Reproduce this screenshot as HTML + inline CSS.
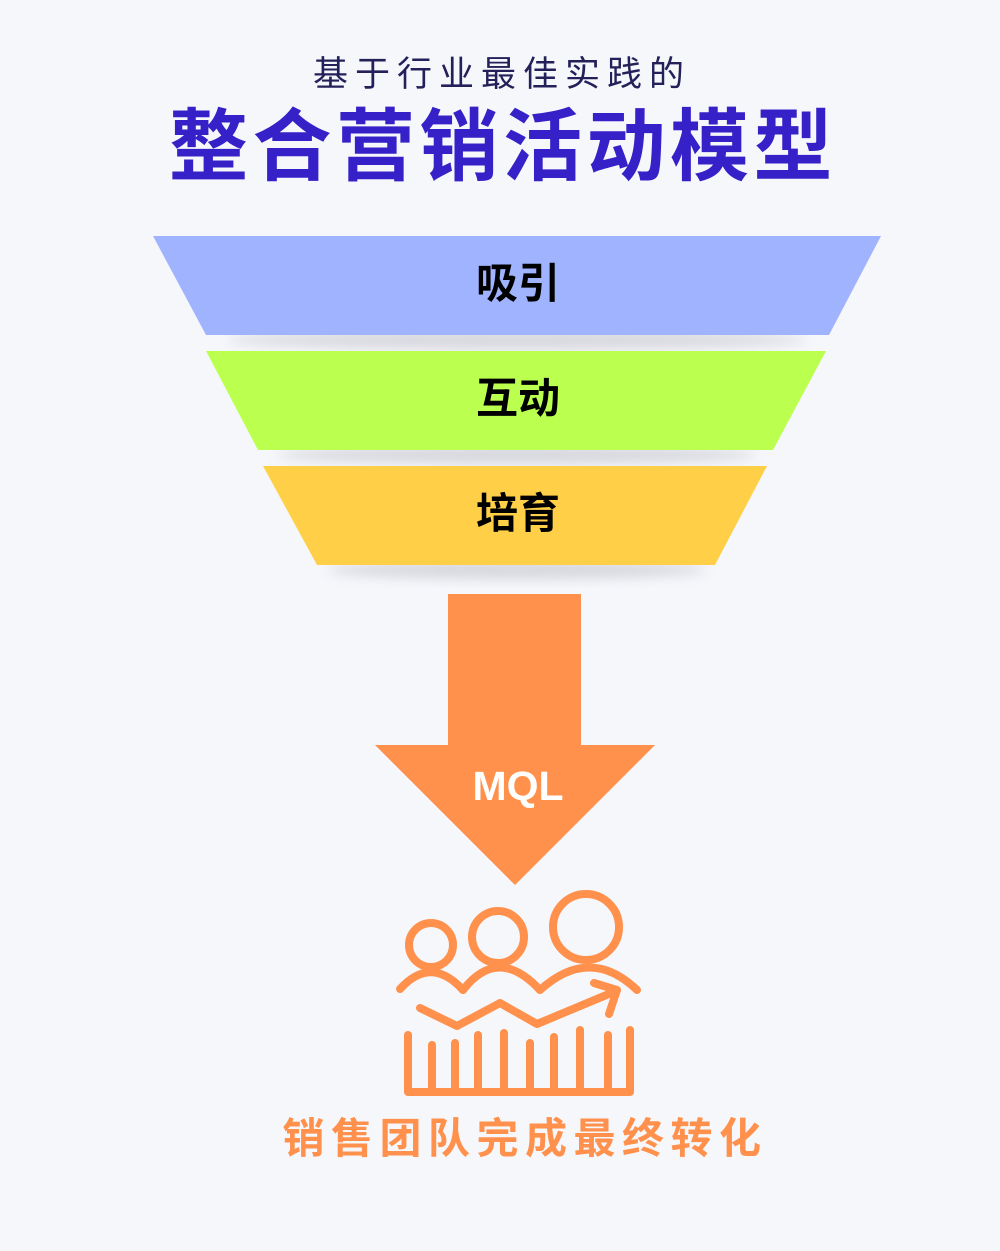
<!DOCTYPE html>
<html><head><meta charset="utf-8"><style>
html,body{margin:0;padding:0;background:#f6f7fb;}
svg{display:block}
text{font-family:"Liberation Sans","Noto Sans CJK SC",sans-serif;}
</style></head><body>
<svg width="1000" height="1251" viewBox="0 0 1000 1251" xmlns="http://www.w3.org/2000/svg">
<defs>
<filter id="sh" x="-20%" y="-50%" width="140%" height="200%"><feGaussianBlur stdDeviation="6"/></filter>
</defs>
<rect width="1000" height="1251" fill="#f6f7fb"/>
<text x="502" y="86" text-anchor="middle" font-size="35" fill="#24205a" letter-spacing="7">基于行业最佳实践的</text>
<text x="503" y="174" text-anchor="middle" font-size="79" font-weight="bold" fill="#3620c8" letter-spacing="4.5">整合营销活动模型</text>
<ellipse cx="517" cy="340" rx="290" ry="9" fill="#c8c9d0" opacity="0.7" filter="url(#sh)"/>
<ellipse cx="517" cy="455" rx="240" ry="9" fill="#c8c9d0" opacity="0.7" filter="url(#sh)"/>
<ellipse cx="517" cy="570" rx="190" ry="9" fill="#c8c9d0" opacity="0.7" filter="url(#sh)"/>
<polygon points="153,236 881,236 829,335 206,335" fill="#a0b3ff"/>
<polygon points="206,351 826,351 773,450 258,450" fill="#bbff4f"/>
<polygon points="263,466 767,466 715,565 317,565" fill="#ffd047"/>
<text x="518" y="298" text-anchor="middle" font-size="42" font-weight="bold" fill="#000">吸引</text>
<text x="518" y="413" text-anchor="middle" font-size="42" font-weight="bold" fill="#000">互动</text>
<text x="518" y="528" text-anchor="middle" font-size="42" font-weight="bold" fill="#000">培育</text>
<polygon points="448,594 581,594 581,745 655,745 515,885 375,745 448,745" fill="#ff914d"/>
<text x="518" y="800" text-anchor="middle" font-size="41" font-weight="bold" fill="#fff">MQL</text>
<g fill="none" stroke="#ff914d" stroke-width="8" stroke-linecap="round" stroke-linejoin="round">
<circle cx="431" cy="945" r="22"/>
<circle cx="498" cy="937" r="26"/>
<circle cx="586" cy="927" r="33"/>
<path d="M400,989 Q431,955 463,990"/>
<path d="M463,990 Q498,945 540,990"/>
<path d="M540,990 Q590,945 637,990"/>
<path d="M420,1008 L457,1026 L500,1003 L537,1024 L616,991"/>
<path d="M594,983 L617,990 L609,1014"/>
<path d="M408,1035 V1092 H630 V1030"/>
<path d="M432,1045 V1092 M455,1043 V1092 M478,1035 V1092 M504,1033 V1092 M530,1043 V1092 M554,1037 V1092 M580,1030 V1092 M608,1035 V1092"/>
</g>
<text x="525" y="1153" text-anchor="middle" font-size="42" font-weight="bold" fill="#ff914d" letter-spacing="6.5">销售团队完成最终转化</text>
</svg>
</body></html>
